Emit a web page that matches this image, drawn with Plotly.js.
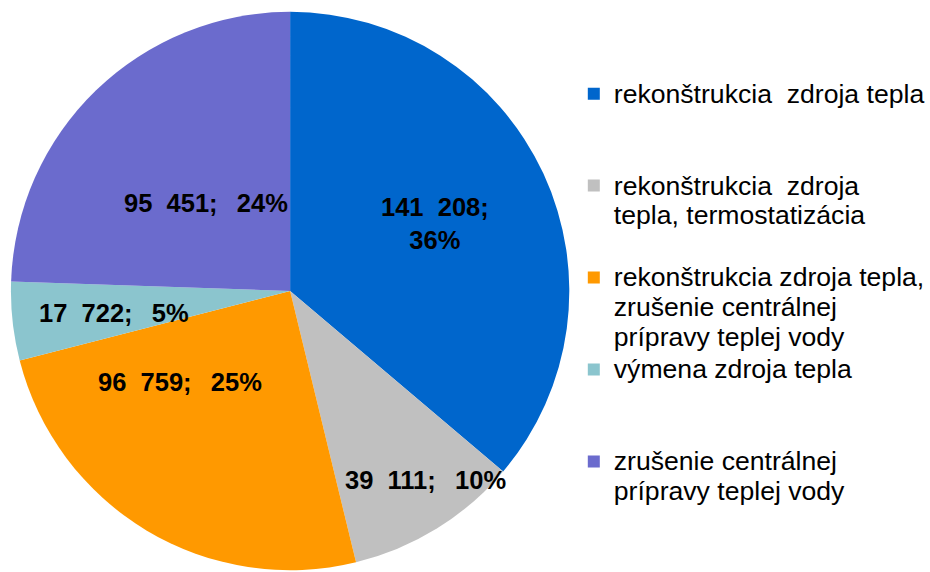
<!DOCTYPE html>
<html>
<head>
<meta charset="utf-8">
<script src="https://cdn.plot.ly/plotly-3.0.1.min.js"></script>
<style>html,body{margin:0;padding:0;background:#fff;}#chart{width:930px;height:572px;}</style>
</head>
<body>
<div id="chart"></div>
<script>
// ---- data ----
const categories = [
  "rekonštrukcia\u00a0\u00a0zdroja tepla",
  "rekonštrukcia\u00a0\u00a0zdroja<br>tepla, termostatizácia",
  "rekonštrukcia zdroja tepla,<br>zrušenie centrálnej<br>prípravy teplej vody",
  "výmena zdroja tepla",
  "zrušenie centrálnej<br>prípravy teplej vody"
];
const values = [141208, 39111, 96759, 17722, 95451];
const colors = ["#0066CC", "#C0C0C0", "#FF9900", "#8BC5CE", "#6B6BCD"];

// ---- label placement (layout only): radius fraction and angle shift from slice bisector ----
const labelRadius = [0.571, 0.828, 0.511, 0.635, 0.435];
const labelAngleShift = [0, -4, 19.7, -1, 0];
const labelBreak = [true, false, false, false, false];

// ---- geometry of the figure ----
const W = 930, H = 572;
const M = {l: 0, r: 0, t: 10, b: 0};
const domX = [11 / W, 573 / W];
const plotH = H - M.t - M.b;
const R = plotH / 2;
const cx = (domX[0] + domX[1]) / 2 * W;
const cy = M.t + R;

const total = values.reduce((a, b) => a + b, 0);
function fmtNum(v) {
  return String(v).replace(/\B(?=(\d{3})+(?!\d))/g, "\u00a0\u00a0");
}

const annotations = [];
let cum = 0;
values.forEach((v, i) => {
  const mid = (cum + v / 2) / total * 360 + labelAngleShift[i];
  cum += v;
  const rad = mid * Math.PI / 180;
  const px = cx + R * labelRadius[i] * Math.sin(rad);
  const py = cy - R * labelRadius[i] * Math.cos(rad);
  const pct = Math.round(v / total * 100) + "%";
  const txt = fmtNum(v) + ";" + (labelBreak[i] ? "<br>" : "\u00a0\u00a0\u2009") + pct;
  annotations.push({
    xref: "paper", yref: "paper",
    x: (px - M.l) / (W - M.l - M.r),
    y: (H - M.b - py) / plotH,
    xanchor: "center", yanchor: "middle",
    text: txt, showarrow: false,
    font: {family: "Liberation Sans, Arial, sans-serif", size: 25.5, color: "#000", weight: "bold"}
  });
});

// legend text: bigger glyphs, tighter line spacing, all entries 3 lines tall
const legendLabels = categories.map(c => {
  const lines = c.split("<br>");
  while (lines.length < 3) lines.push("\u00a0");
  return lines.map(l => '<span style="font-size:26.6px">' + l + '</span>').join("<br>");
});

const trace = {
  type: "pie",
  labels: legendLabels,
  values: values,
  marker: {colors: colors, line: {width: 0}},
  sort: false,
  direction: "clockwise",
  rotation: 0,
  textinfo: "none",
  hoverinfo: "label+value+percent",
  domain: {x: domX, y: [0, 1]}
};

const layout = {
  width: W, height: H,
  margin: M,
  paper_bgcolor: "#fff",
  showlegend: true,
  annotations: annotations,
  legend: {
    x: 0.621, y: 0.889, xanchor: "left", yanchor: "top",
    valign: "top",
    font: {family: "Liberation Sans, Arial, sans-serif", size: 22.8, color: "#000"},
    bgcolor: "rgba(0,0,0,0)"
  }
};

Plotly.newPlot("chart", [trace], layout, {displayModeBar: false, staticPlot: true});
</script>
</body>
</html>
